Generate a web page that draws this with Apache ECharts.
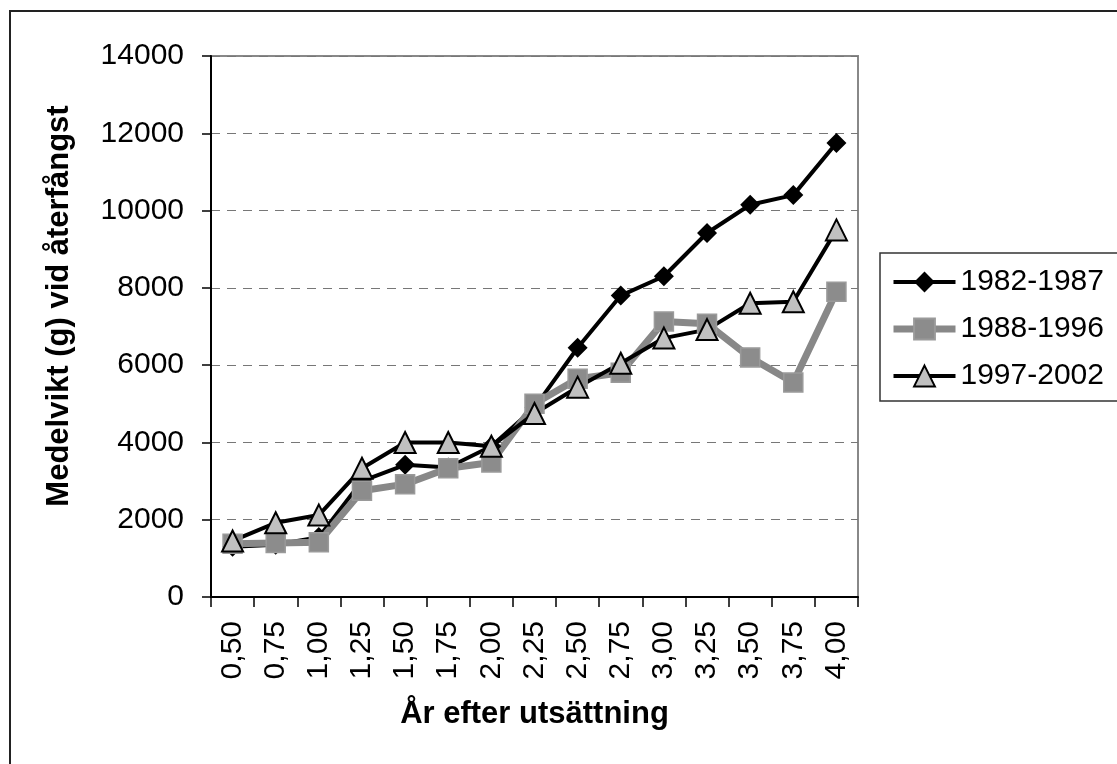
<!DOCTYPE html>
<html>
<head>
<meta charset="utf-8">
<script src="https://cdn.jsdelivr.net/npm/echarts@6/dist/echarts.min.js"></script>
<style>html,body{margin:0;padding:0;background:#fff;}#c{width:1117px;height:764px;}</style>
</head>
<body>
<div id="c"></div>
<script>
const categories = ['0,50','0,75','1,00','1,25','1,50','1,75','2,00','2,25','2,50','2,75','3,00','3,25','3,50','3,75','4,00'];
const s1982 = [1300, 1350, 1550, 3000, 3420, 3350, 3900, 4900, 6450, 7800, 8300, 9420, 10150, 10400, 11750];
const s1988 = [1380, 1400, 1420, 2750, 2920, 3330, 3480, 5000, 5650, 5800, 7130, 7070, 6200, 5550, 7900];
const s1997 = [1450, 1920, 2120, 3330, 4000, 4000, 3900, 4750, 5430, 6050, 6700, 6920, 7600, 7640, 9500];
const yTicks = [0, 2000, 4000, 6000, 8000, 10000, 12000, 14000];
const names = ['1982-1987', '1988-1996', '1997-2002'];

const chart = echarts.init(document.getElementById('c'), null, {renderer: 'canvas'});
const font = 'Liberation Sans, Arial, sans-serif';
chart.setOption({
  animation: false,
  backgroundColor: '#fff',
  textStyle: {fontFamily: font},
  grid: {left: 211, right: 259, top: 56, bottom: 167, show: true, borderColor: '#888', borderWidth: 2, backgroundColor: 'transparent'},
  legend: {
    orient: 'vertical', left: 880, top: 253,
    padding: [14, 40, 10, 10],
    itemWidth: 62, itemHeight: 26, itemGap: 17,
    borderColor: '#333', borderWidth: 1.5,
    textStyle: {fontSize: 30, color: '#000', fontFamily: font},
    data: [
      {name: names[0], lineStyle: {width: 4, color: '#000'}},
      {name: names[1], lineStyle: {width: 7, color: '#888'}},
      {name: names[2], lineStyle: {width: 4, color: '#000'}}
    ]
  },
  xAxis: {
    type: 'category', data: categories, boundaryGap: true,
    axisLine: {lineStyle: {color: '#000', width: 2}},
    axisTick: {show: true, length: 10, lineStyle: {color: '#000', width: 1.5}},
    axisLabel: {rotate: 90, fontSize: 30, color: '#000', margin: 24, fontFamily: font, interval: 0},
    name: 'År efter utsättning', nameLocation: 'middle', nameGap: 102,
    nameTextStyle: {fontSize: 31, fontWeight: 'bold', color: '#000', fontFamily: font}
  },
  yAxis: {
    type: 'value', min: 0, max: 14000, interval: 2000,
    axisLine: {show: true, lineStyle: {color: '#000', width: 2}},
    axisTick: {show: true, length: 9, lineStyle: {color: '#000', width: 1.5}},
    axisLabel: {fontSize: 30, color: '#000', margin: 27, fontFamily: font,
      formatter: v => yTicks.includes(v) ? String(v) : ''},
    splitLine: {show: true, lineStyle: {color: '#777', width: 1.2, type: [9, 7]}}
  },
  graphic: [
    {type: 'rect', shape: {x: 10, y: 11, width: 1200, height: 800}, style: {fill: 'none', stroke: '#222', lineWidth: 2}, silent: true},
    {type: 'text', x: 59, y: 306, rotation: Math.PI / 2,
      style: {text: 'Medelvikt (g) vid återfångst', font: 'bold 31px ' + font, fill: '#000', align: 'center', verticalAlign: 'middle'}}
  ],
  series: [
    {name: names[0], type: 'line', data: s1982, symbol: 'diamond', symbolSize: 20,
      lineStyle: {color: '#000', width: 4}, itemStyle: {color: '#000', borderColor: '#000', borderWidth: 0}},
    {name: names[1], type: 'line', data: s1988, symbol: 'rect', symbolSize: 19,
      lineStyle: {color: '#888', width: 7}, itemStyle: {color: '#8c8c8c', borderColor: '#9a9a9a', borderWidth: 1.5}},
    {name: names[2], type: 'line', data: s1997, symbol: 'triangle', symbolSize: 21,
      lineStyle: {color: '#000', width: 4}, itemStyle: {color: '#c0c0c0', borderColor: '#000', borderWidth: 2}}
  ]
});
</script>
</body>
</html>
